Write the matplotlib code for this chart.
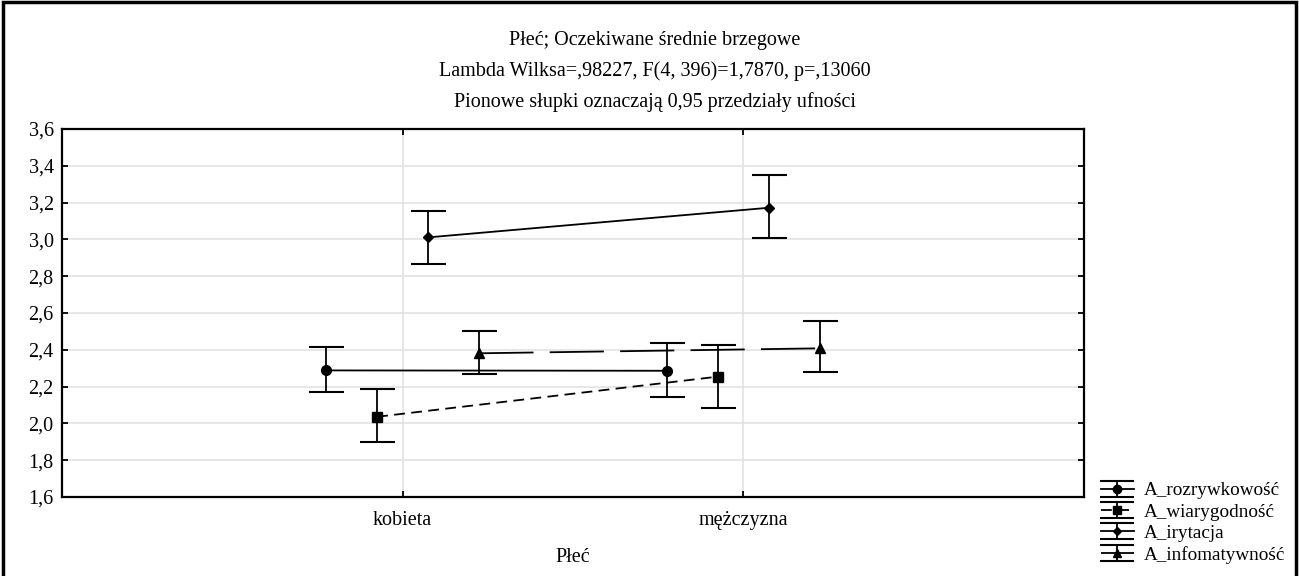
import numpy as np
import matplotlib
matplotlib.use("Agg")
import matplotlib.pyplot as plt
from matplotlib.patches import Rectangle
from matplotlib.legend_handler import HandlerErrorbar

plt.rcParams['font.family'] = ['Liberation Serif', 'DejaVu Serif']

# Dane
kategorie = ['kobieta', 'mężczyzna']
serie = ['A_rozrywkowość', 'A_wiarygodność', 'A_irytacja', 'A_infomatywność']

srednie = {
    'A_rozrywkowość': [2.288, 2.286],
    'A_wiarygodność': [2.036, 2.254],
    'A_irytacja': [3.011, 3.172],
    'A_infomatywność': [2.381, 2.408],
}
dolne = {
    'A_rozrywkowość': [2.169, 2.143],
    'A_wiarygodność': [1.897, 2.085],
    'A_irytacja': [2.866, 3.009],
    'A_infomatywność': [2.267, 2.278],
}
gorne = {
    'A_rozrywkowość': [2.415, 2.435],
    'A_wiarygodność': [2.185, 2.426],
    'A_irytacja': [3.156, 3.352],
    'A_infomatywność': [2.502, 2.555],
}

yticks = [1.6, 1.8, 2.0, 2.2, 2.4, 2.6, 2.8, 3.0, 3.2, 3.4, 3.6]

# style serii: przesuniecie, marker, rozmiar markera, styl linii
przesuniecia = [-0.225, -0.075, 0.075, 0.225]
markery = ['o', 's', 'D', '^']
rozmiary = [7, 7, 5, 7]
style = ['-', (0, (6, 3.5)), '-', (0, (30, 9))]

fig = plt.figure(figsize=(12.99, 5.76), dpi=100)
ax = fig.add_axes([62 / 1299, 1 - 497 / 576, 1022 / 1299, 368 / 576])
# osie poza rysunkiem - tylko na uchwyty legendy
ax_leg = fig.add_axes([2.0, 2.0, 0.1, 0.1])
ax_leg.set_axis_off()

x = np.arange(1, len(kategorie) + 1)
uchwyty = []
for i, s in enumerate(serie):
    m = np.array(srednie[s])
    lo = m - np.array(dolne[s])
    hi = np.array(gorne[s]) - m
    ax.errorbar(x + przesuniecia[i], m, yerr=[lo, hi], color='black',
                marker=markery[i], markersize=rozmiary[i], linestyle=style[i],
                linewidth=1.3, elinewidth=1.3, capsize=12.6, capthick=1.5,
                zorder=3)
    h = ax_leg.errorbar([0], [0], yerr=[0.1], color='black',
                        marker=markery[i], markersize=rozmiary[i] - 1, linestyle=style[i],
                        linewidth=1.3, elinewidth=1.3, capsize=12, capthick=1.5)
    uchwyty.append(h)

ax.set_xlim(0, 3)
ax.set_ylim(1.6, 3.6)
ax.set_xticks(x)
ax.set_xticklabels(kategorie)
ax.set_yticks(yticks)
ax.set_yticklabels([f'{v:.1f}'.replace('.', ',') for v in yticks])
ax.tick_params(direction='in', length=4, width=1.3, labelsize=14.5,
               top=True, right=True, colors='black')
ax.tick_params(axis='x', pad=10)
ax.tick_params(axis='y', pad=6)
ax.grid(True, color='#e3e3e3', linewidth=1.2, zorder=0)
ax.set_axisbelow(True)
for sp in ax.spines.values():
    sp.set_linewidth(1.6)
ax.set_xlabel('Płeć', fontsize=14.5, labelpad=13)

# tytuly
fs = 14.5
fig.text(0.504, 1 - 40 / 576, 'Płeć; Oczekiwane średnie brzegowe', ha='center', va='center', fontsize=fs)
fig.text(0.504, 1 - 71 / 576, 'Lambda Wilksa=,98227, F(4, 396)=1,7870, p=,13060', ha='center', va='center', fontsize=fs)
fig.text(0.504, 1 - 102 / 576, 'Pionowe słupki oznaczają 0,95 przedziały ufności', ha='center', va='center', fontsize=fs)

fig.legend(handles=uchwyty, labels=serie, loc='upper left',
           bbox_to_anchor=(1101 / 1299, 1 - 482 / 576), frameon=False,
           fontsize=13.8, handlelength=1.7, handletextpad=0.55, labelspacing=0.2,
           borderpad=0, borderaxespad=0,
           handler_map={type(uchwyty[0]): HandlerErrorbar(yerr_size=0.42)})

# ramka wokol rysunku
fig.patches.append(Rectangle((0.002, -0.05), 0.996, 1.047, transform=fig.transFigure,
                             fill=False, edgecolor='black', linewidth=2.5))

fig.savefig('out.png', dpi=100)
